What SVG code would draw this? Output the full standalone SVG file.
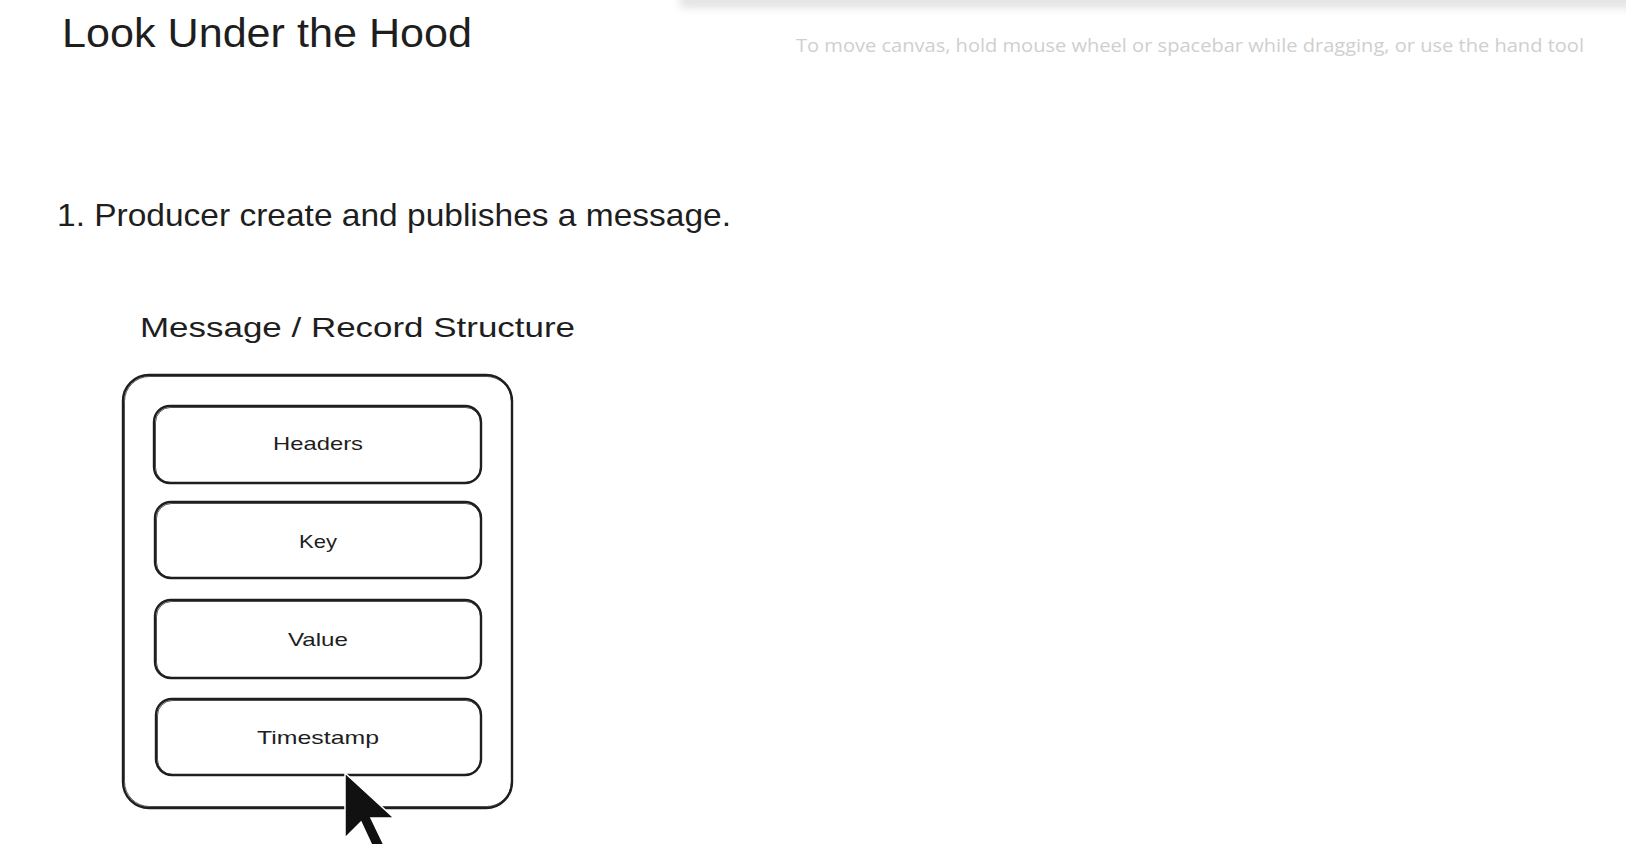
<svg xmlns="http://www.w3.org/2000/svg" width="1626" height="844" viewBox="0 0 1626 844">
  <defs>
    <style>
      .hand { font-family: "Liberation Sans", "DejaVu Sans", sans-serif; fill: #1e1e1e; }
      .box { fill: none; stroke: #1e1e1e; stroke-width: 2.4; stroke-linejoin: round; }
      .box2 { fill: none; stroke: #1e1e1e; stroke-width: 1; opacity: 0.7; }
      .lbl { font-family: "Liberation Sans", "DejaVu Sans", sans-serif; font-size: 19px; fill: #1e1e1e; text-anchor: middle; }
      .hint { font-family: "Open Sans", "Liberation Sans", sans-serif; font-size: 19px; fill: #cfcfcf; }
    </style>
    <filter id="blur" x="-5%" y="-100%" width="110%" height="300%">
      <feGaussianBlur stdDeviation="4"/>
    </filter>
  </defs>

  <rect x="0" y="0" width="1626" height="844" fill="#ffffff"/>

  <!-- toolbar shadow -->
  <rect x="680" y="-6" width="960" height="14" fill="#dcdcdc" filter="url(#blur)" opacity="0.8"/>

  <text class="hint" x="796" y="52" textLength="788" lengthAdjust="spacingAndGlyphs">To move canvas, hold mouse wheel or spacebar while dragging, or use the hand tool</text>

  <g id="title">
    <text class="hand" x="62" y="47" font-size="40" textLength="410" lengthAdjust="spacingAndGlyphs">Look Under the Hood</text>
  </g>

  <g id="step1">
    <text class="hand" x="57" y="226" font-size="32" textLength="674" lengthAdjust="spacingAndGlyphs">1. Producer create and publishes a message.</text>
  </g>

  <g id="structure-title">
    <text class="hand" x="140" y="337" font-size="28" textLength="435" lengthAdjust="spacingAndGlyphs">Message / Record Structure</text>
  </g>

  <g id="record">
    <rect class="box" x="123" y="375" width="389" height="433" rx="26"/>
    <rect class="box2" x="124.5" y="376.5" width="387" height="430" rx="25"/>
  </g>

  <g id="headers">
    <rect class="box" x="154" y="406" width="327" height="77" rx="16"/>
    <rect class="box2" x="155.5" y="407.5" width="325" height="75" rx="15"/>
    <text class="lbl" x="318" y="450" textLength="90" lengthAdjust="spacingAndGlyphs">Headers</text>
  </g>

  <g id="key">
    <rect class="box" x="155" y="502" width="326" height="76" rx="16"/>
    <rect class="box2" x="156.5" y="503.5" width="324" height="74" rx="15"/>
    <text class="lbl" x="318" y="548" textLength="38" lengthAdjust="spacingAndGlyphs">Key</text>
  </g>

  <g id="value">
    <rect class="box" x="155" y="600" width="326" height="78" rx="16"/>
    <rect class="box2" x="156.5" y="601.5" width="324" height="76" rx="15"/>
    <text class="lbl" x="318" y="646" textLength="60" lengthAdjust="spacingAndGlyphs">Value</text>
  </g>

  <g id="timestamp">
    <rect class="box" x="156" y="699" width="325" height="76" rx="16"/>
    <rect class="box2" x="157.5" y="700.5" width="323" height="74" rx="15"/>
    <text class="lbl" x="318" y="744" textLength="122" lengthAdjust="spacingAndGlyphs">Timestamp</text>
  </g>

  <g id="connectors"></g>

  <!-- mouse cursor -->
  <g id="cursor">
    <polygon points="345,773 345,838 361,822 374,850 384,845 371,818 394,818" fill="#111111" stroke="#ffffff" stroke-width="1.5"/>
  </g>
</svg>
